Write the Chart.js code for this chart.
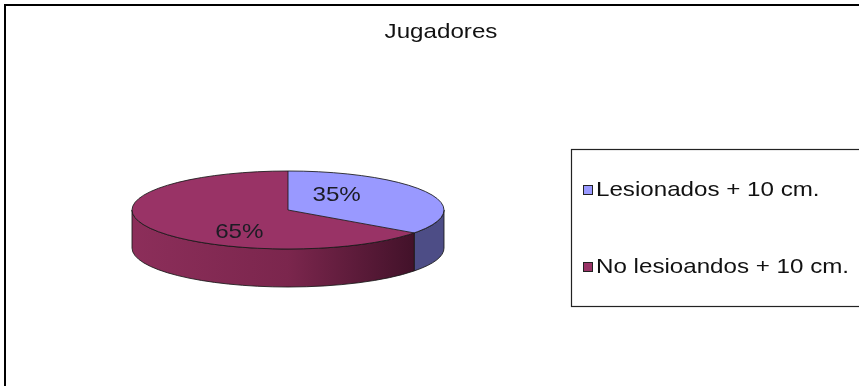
<!DOCTYPE html>
<html>
<head>
<meta charset="utf-8">
<script src="https://cdn.jsdelivr.net/npm/chart.js@4/dist/chart.umd.min.js"></script>
<style>
  html, body { margin: 0; padding: 0; background: #fff; }
  canvas { display: block; }
</style>
</head>
<body>
<canvas id="chart" width="859" height="386"></canvas>
<script>
const chartTitle = "Jugadores"
const categories = ["Lesionados + 10 cm.", "No lesioandos + 10 cm."]
const values = [35, 65]

const topColors = ["#9999ff", "#993366"]
const sideColors = ["#4d4d86", "#80284f"]
const edgeColor = "rgba(25, 25, 25, 0.85)"

// flattening of the pie and thickness of its rim
const TILT = 0.25
const DEPTH = 38
// text in this chart is a bit wider than the stock font
const STRETCH = 1.15
const FONT = "'Liberation Sans', Arial, sans-serif"

function stretchedText(ctx, text, x, y, align) {
  ctx.save()
  ctx.translate(x, y)
  ctx.scale(STRETCH, 1)
  ctx.textAlign = align
  ctx.fillText(text, 0, 0)
  ctx.restore()
}

function pieGeometry(chart) {
  const arcs = chart.getDatasetMeta(0).data
  const { x, y, outerRadius } = arcs[0].getProps(["x", "y", "outerRadius"], true)
  return { arcs, cx: x, cy: y, r: outerRadius, ry: outerRadius * TILT }
}

// Draws the rim under the pie, then squashes the pie itself into an ellipse
const tiltPlugin = {
  id: "tilt",
  beforeDatasetsDraw(chart) {
    const ctx = chart.ctx
    const { arcs, cx, cy, r, ry } = pieGeometry(chart)

    arcs.forEach((arc, i) => {
      const { startAngle, endAngle } = arc.getProps(["startAngle", "endAngle"], true)
      // only the front half of the rim is visible
      const s = Math.max(startAngle, 0)
      const e = Math.min(endAngle, Math.PI)
      if (e <= s) return

      ctx.beginPath()
      ctx.ellipse(cx, cy, r, ry, 0, s, e)
      ctx.ellipse(cx, cy + DEPTH, r, ry, 0, e, s, true)
      ctx.closePath()

      const grad = ctx.createLinearGradient(cx - r, 0, cx + r, 0)
      if (i === 1) {
        grad.addColorStop(0, "#8c2e5a")
        grad.addColorStop(0.5, "#7b264d")
        grad.addColorStop(0.9, "#43122a")
        grad.addColorStop(1, "#3a1024")
      } else {
        grad.addColorStop(0, sideColors[i])
        grad.addColorStop(1, sideColors[i])
      }
      ctx.fillStyle = grad
      ctx.fill()
      ctx.strokeStyle = edgeColor
      ctx.lineWidth = 1
      ctx.stroke()
    })

    ctx.save()
    ctx.translate(0, cy)
    ctx.scale(1, TILT)
    ctx.translate(0, -cy)
  },
  afterDatasetsDraw(chart) {
    const ctx = chart.ctx
    ctx.restore()
    const { arcs, cx, cy, r, ry } = pieGeometry(chart)

    // outline of the top face and slice edges
    ctx.strokeStyle = edgeColor
    ctx.lineWidth = 1
    ctx.beginPath()
    ctx.ellipse(cx, cy, r, ry, 0, 0, Math.PI * 2)
    ctx.stroke()
    arcs.forEach(arc => {
      const { startAngle } = arc.getProps(["startAngle"], true)
      ctx.beginPath()
      ctx.moveTo(cx, cy)
      ctx.lineTo(cx + r * Math.cos(startAngle), cy + ry * Math.sin(startAngle))
      ctx.stroke()
    })

    // percentage labels
    const total = values.reduce((a, b) => a + b, 0)
    ctx.fillStyle = "#1c1c24"
    ctx.font = "21px " + FONT
    ctx.textBaseline = "middle"
    arcs.forEach((arc, i) => {
      const { startAngle, endAngle } = arc.getProps(["startAngle", "endAngle"], true)
      const mid = (startAngle + endAngle) / 2
      const x = cx + r * 0.35 * Math.cos(mid)
      const y = cy + r * 0.26 * Math.sin(mid) + 4
      stretchedText(ctx, Math.round(values[i] / total * 100) + "%", x, y, "center")
    })
  }
}

// Frame, title and the boxed legend on the right
const framePlugin = {
  id: "frame",
  beforeDraw(chart) {
    const ctx = chart.ctx
    ctx.save()
    ctx.fillStyle = "#fff"
    ctx.fillRect(0, 0, chart.width, chart.height)
    ctx.fillStyle = "#000"
    ctx.fillRect(4, 4, 2, chart.height)
    ctx.fillRect(4, 4, chart.width, 2)
    ctx.restore()
  },
  afterDraw(chart) {
    const ctx = chart.ctx
    ctx.save()
    ctx.fillStyle = "#111"
    ctx.font = "21px " + FONT
    ctx.textBaseline = "middle"
    stretchedText(ctx, chartTitle, 441, 32, "center")

    ctx.strokeStyle = "#222"
    ctx.lineWidth = 1.2
    ctx.strokeRect(571.5, 149.5, 300, 157)

    const rowY = [190, 267]
    ctx.font = "21px " + FONT
    categories.forEach((label, i) => {
      ctx.fillStyle = topColors[i]
      ctx.fillRect(583, rowY[i] - 5, 10, 10)
      ctx.strokeStyle = "#222"
      ctx.lineWidth = 1
      ctx.strokeRect(583.5, rowY[i] - 4.5, 9, 9)
      ctx.fillStyle = "#111"
      stretchedText(ctx, label, 596, rowY[i], "left")
    })
    ctx.restore()
  }
}

new Chart(document.getElementById("chart"), {
  type: "pie",
  data: {
    labels: categories,
    datasets: [{
      data: values,
      backgroundColor: topColors,
      borderWidth: 0
    }]
  },
  options: {
    responsive: false,
    animation: false,
    devicePixelRatio: 1,
    events: [],
    layout: { padding: { left: 132, right: 415, top: 44, bottom: 10 } },
    plugins: {
      legend: { display: false },
      title: { display: false },
      tooltip: { enabled: false }
    }
  },
  plugins: [framePlugin, tiltPlugin]
})
</script>
</body>
</html>
